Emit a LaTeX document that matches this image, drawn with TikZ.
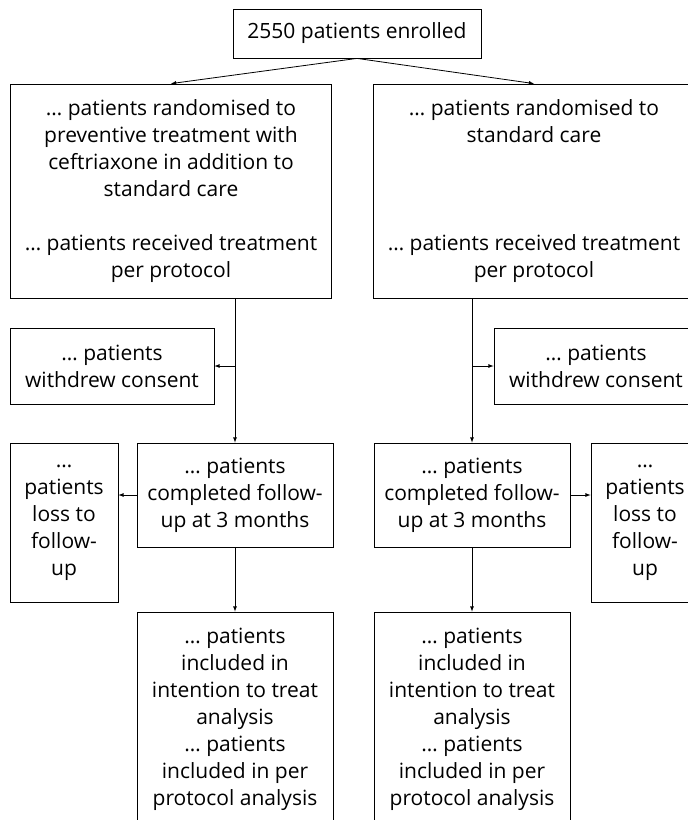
\documentclass[tikz,border=0pt]{standalone}
\usepackage{fontspec}
\setmainfont{Open Sans}
\begin{document}
\begin{tikzpicture}[x=1pt,y=-1pt,
  every path/.style={line width=0.8pt},
  box/.style={draw, align=center, inner sep=0pt, font=\fontsize{21}{27}\selectfont}]
  \useasboundingbox (0,0) rectangle (688,820);

  % top box
  \node[box, minimum width=248, minimum height=49] (enrol) at (357,33.5) {2550 patients enrolled};

  % randomised arms
  \node[box, minimum width=321, minimum height=214] (randA) at (171,191)
    {… patients randomised to\\ preventive treatment with\\ ceftriaxone in addition to\\ standard care\\[27pt] … patients received treatment\\ per protocol};
  \node[box, minimum width=321, minimum height=214] (randB) at (534,191)
    {… patients randomised to\\ standard care\\[81pt] … patients received treatment\\ per protocol};

  % withdrew consent
  \node[box, minimum width=204, minimum height=76] (wdA) at (112,366) {… patients\\ withdrew consent};
  \node[box, minimum width=204, minimum height=76] (wdB) at (596,366) {… patients\\ withdrew consent};

  % completed follow-up and analysis
  \foreach \s/\x in {A/235,B/472} {
    \node[box, minimum width=196, minimum height=104] (comp\s) at (\x,495) {… patients\\ completed follow-\\ up at 3 months};
    \node[box, minimum width=196, minimum height=214] (res\s) at (\x,719)
      {… patients\\ included in\\ intention to treat\\ analysis\\ … patients\\ included in per\\ protocol analysis};
  }

  % loss to follow-up
  \node[box, minimum width=108, minimum height=159] (lossA) at (64,522.5) {…\\ patients\\ loss to\\ follow-\\ up};
  \node[box, minimum width=108, minimum height=159] (lossB) at (645,522.5) {…\\ patients\\ loss to\\ follow-\\ up};

  % arrows
  \draw[-latex] (enrol.south) -- (randA.north);
  \draw[-latex] (enrol.south) -- (randB.north);
  \foreach \s in {A,B} {
    \draw[-latex] (rand\s.south -| comp\s.north) -- (comp\s.north);
    \draw[-latex] (comp\s.south) -- (res\s.north);
  }
  \draw[-latex] (compA.north |- wdA.east) -- (wdA.east);
  \draw[-latex] (compB.north |- wdB.west) -- (wdB.west);
  \draw[-latex] (compA.west) -- (compA.west -| lossA.east);
  \draw[-latex] (compB.east) -- (compB.east -| lossB.west);
\end{tikzpicture}
\end{document}
